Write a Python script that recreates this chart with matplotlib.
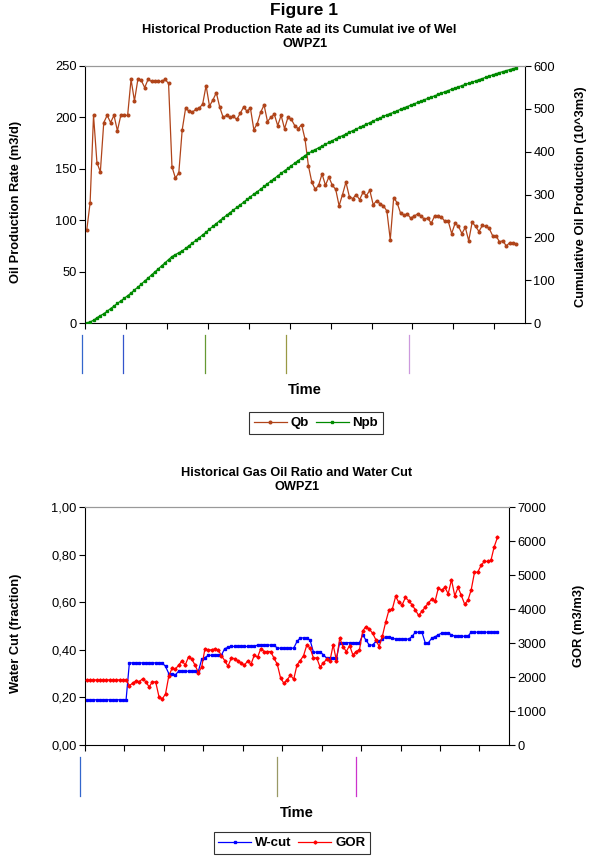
import matplotlib
matplotlib.use("Agg")
import matplotlib.pyplot as plt
from matplotlib.ticker import FixedLocator

plt.rcParams['font.family'] = ['Liberation Sans', 'DejaVu Sans']

# ---------------- data ----------------
qb = [90, 117, 202, 156, 147, 195, 202, 195, 202, 187,
      202, 202, 202, 237, 216, 237, 236, 229, 237, 235,
      235, 235, 235, 237, 233, 152, 141, 146, 188, 209,
      206, 205, 208, 209, 213, 231, 211, 217, 224, 210,
      200, 202, 200, 201, 198, 204, 210, 206, 209, 188,
      194, 205, 212, 196, 200, 203, 192, 202, 189, 200,
      198, 192, 189, 193, 179, 153, 137, 130, 134, 145,
      134, 142, 134, 130, 114, 125, 137, 123, 121, 125,
      120, 127, 124, 129, 115, 119, 116, 114, 109, 81,
      122, 117, 107, 105, 106, 102, 104, 106, 104, 101,
      102, 97, 104, 104, 103, 99, 99, 87, 97, 94,
      87, 93, 80, 98, 94, 89, 95, 94, 92, 85,
      85, 79, 80, 75, 78, 78, 77]

npb = [0, 2.7, 6.3, 12.4, 17.2, 21.6, 27.6, 33.7, 39.6, 45.8,
       51.5, 57.6, 63.7, 69.9, 77.1, 83.7, 90.9, 98.0, 105.0, 112.2,
       119.4, 126.5, 133.6, 140.8, 148.0, 155.1, 159.7, 164.0, 168.4, 174.1,
       180.5, 186.7, 193.0, 199.3, 205.7, 212.1, 219.2, 225.6, 232.2, 239.0,
       245.4, 251.4, 257.6, 263.7, 269.8, 275.8, 282.0, 288.4, 294.6, 301.0,
       306.7, 312.6, 318.8, 325.3, 331.2, 337.3, 343.5, 349.3, 355.5, 361.2,
       367.3, 373.3, 379.1, 384.9, 390.8, 396.2, 400.9, 405.0, 409.0, 413.0,
       417.5, 421.5, 425.8, 429.9, 433.9, 437.3, 441.1, 445.3, 449.0, 452.7,
       456.5, 460.2, 464.0, 467.8, 471.7, 475.2, 478.8, 482.4, 485.8, 489.1,
       491.6, 495.3, 498.9, 502.1, 505.3, 508.5, 511.6, 514.8, 518.0, 521.2,
       524.2, 527.3, 530.3, 533.5, 536.6, 539.8, 542.8, 545.8, 548.4, 551.4,
       554.2, 556.9, 559.7, 562.1, 565.1, 568.0, 570.7, 573.6, 576.4, 579.2,
       581.8, 584.4, 586.8, 589.2, 591.5, 593.9, 596.2]

wcut = ([0.19] * 13 + [0.345] * 11 +
        [0.33, 0.30, 0.30, 0.295] + [0.31] * 7 +
        [0.36, 0.367] + [0.377] * 5 + [0.405, 0.41] + [0.414] * 8 +
        [0.42] * 6 + [0.407] * 6 + [0.435] + [0.45] * 3 + [0.44] +
        [0.39] * 3 + [0.38] + [0.365] * 4 + [0.43] * 7 +
        [0.463, 0.44, 0.42, 0.42, 0.435, 0.437, 0.445, 0.453, 0.453, 0.449] +
        [0.445] * 5 + [0.456] + [0.474] * 3 + [0.43, 0.43, 0.449, 0.455, 0.463] +
        [0.47] * 3 + [0.463] + [0.457] * 5 + [0.474] * 9)

gor = [1915] * 13 + [
    1748, 1816, 1885, 1865, 1944, 1865, 1708, 1856, 1856, 1424,
    1355, 1502, 2032, 2258, 2238, 2346, 2474, 2356, 2592, 2523,
    2346, 2130, 2288, 2837, 2798, 2798, 2828, 2798, 2631, 2484,
    2317, 2553, 2543, 2474, 2415, 2346, 2474, 2376, 2641, 2582,
    2837, 2749, 2749, 2749, 2553, 2376, 1973, 1816, 1915, 2052,
    1934, 2356, 2484, 2631, 2945, 2847, 2562, 2562, 2297, 2405,
    2523, 2464, 2945, 2484, 3142, 2896, 2749, 2926, 2651, 2749,
    2798, 3358, 3485, 3407, 3289, 3093, 2896, 3211, 3623, 3976,
    3996, 4369, 4192, 4124, 4340, 4241, 4124, 3976, 3809, 3927,
    4055, 4182, 4290, 4222, 4614, 4546, 4634, 4448, 4860, 4389,
    4634, 4399, 4143, 4251, 4565, 5076, 5086, 5282, 5400, 5400,
    5429, 5832, 6107]

n_categories = 129
tick_every = 12

qb_ticks = [0, 50, 100, 150, 200, 250]
npb_ticks = [0, 100, 200, 300, 400, 500, 600]
wc_ticks = [0.0, 0.2, 0.4, 0.6, 0.8, 1.0]
wc_ticklabels = ["0,00", "0,20", "0,40", "0,60", "0,80", "1,00"]
gor_ticks = [0, 1000, 2000, 3000, 4000, 5000, 6000, 7000]

events_top = [-1.3, 10.6, 34.7, 58.4, 94.5]
events_top_colors = ["#3366CC", "#3355CC", "#669933", "#999944", "#CC99DD"]
events_bot = [-2.0, 57.9, 82.0]
events_bot_colors = ["#3366CC", "#999966", "#CC33CC"]

# ---------------- figure ----------------
W, H = 589, 857
fig = plt.figure(figsize=(W / 100, H / 100), dpi=100)

def frac(x0, y0, x1, y1):
    return [x0 / W, 1 - y1 / H, (x1 - x0) / W, (y1 - y0) / H]

def style_axes(ax, ax2):
    for a in (ax, ax2):
        a.spines['top'].set_color('#999999')
        a.spines['top'].set_linewidth(0.8)
        for s in ('left', 'right', 'bottom'):
            a.spines[s].set_color('black')
            a.spines[s].set_linewidth(0.8)
        a.tick_params(direction='out', length=4, width=0.8, labelsize=9.3,
                      colors='black', pad=2)
    ax.spines['right'].set_visible(False)
    ax2.spines['left'].set_visible(False)
    ax2.spines['bottom'].set_visible(False)
    ax.set_xlim(-0.5, n_categories - 0.5)
    ax.xaxis.set_major_locator(FixedLocator(
        [-0.5 + tick_every * k for k in range(n_categories // tick_every + 1)]))
    ax.set_xticklabels([])

LBL = dict(fontsize=9.3, fontweight='bold', va='center')
TTL = dict(ha='center', va='center', fontsize=9.2, fontweight='bold')

# ---- top chart ----
ax1 = fig.add_axes(frac(85, 66, 525, 323))
ax1b = ax1.twinx()
lq, = ax1.plot(list(range(len(qb))), qb, color='#B0441A', lw=0.9, marker='o', ms=1.9,
               mec='#B0441A', label='Qb')
ln, = ax1b.plot(list(range(len(npb))), npb, color='#008A00', lw=0.9, marker='s', ms=1.9,
                mec='#008A00', label='Npb')
ax1.set_ylim(0, 250)
ax1b.set_ylim(0, 600)
ax1.set_yticks(qb_ticks)
ax1b.set_yticks(npb_ticks)
style_axes(ax1, ax1b)
ax1.set_ylabel('Oil Production Rate (m3/d)', **LBL)
ax1.yaxis.set_label_coords((16 - 85) / 440, 0.47)
ax1b.set_ylabel('Cumulative Oil Production (10^3m3)', rotation=90, **LBL)
ax1b.yaxis.set_label_coords((581 - 85) / 440, 0.49)
fig.text(304 / W, 1 - 10 / H, 'Figure 1', ha='center', va='center', fontsize=12.5, fontweight='bold')
fig.text(299 / W, 1 - 30 / H, 'Historical Production Rate ad its Cumulat ive of Wel', **TTL)
fig.text(305 / W, 1 - 44 / H, 'OWPZ1', **TTL)

ev1 = fig.add_axes(frac(85, 335, 525, 373))
ev1.set_xlim(-0.5, n_categories - 0.5)
ev1.set_ylim(0, 1)
ev1.axis('off')
for xv, c in zip(events_top, events_top_colors):
    ev1.plot([xv, xv], [0, 1], color=c, lw=0.9, clip_on=False)

fig.text(305 / W, 1 - 390 / H, 'Time', ha='center', va='center', fontsize=10.5, fontweight='bold')
leg1 = fig.legend(handles=[lq, ln], loc='center', bbox_to_anchor=(316 / W, 1 - 423 / H),
                  ncol=2, frameon=True, fancybox=False, edgecolor='black',
                  prop={'weight': 'bold', 'size': 9.5}, handlelength=2.5,
                  columnspacing=0.5, handletextpad=0.3, borderpad=0.35, borderaxespad=0)
leg1.get_frame().set_linewidth(0.8)

# ---- bottom chart ----
ax2 = fig.add_axes(frac(85, 507, 509, 745))
ax2b = ax2.twinx()
lw_, = ax2.plot(list(range(len(wcut))), wcut, color='#0000FF', lw=0.9, marker='s', ms=1.8,
                mec='#0000FF', label='W-cut')
lg_, = ax2b.plot(list(range(len(gor))), gor, color='#FF0000', lw=0.9, marker='D', ms=1.6,
                 mec='#FF0000', label='GOR')
ax2.set_ylim(0, 1)
ax2b.set_ylim(0, 7000)
ax2.set_yticks(wc_ticks)
ax2.set_yticklabels(wc_ticklabels)
ax2b.set_yticks(gor_ticks)
style_axes(ax2, ax2b)
ax2.set_ylabel('Water Cut (fraction)', **LBL)
ax2.yaxis.set_label_coords((16 - 85) / 424, 0.47)
ax2b.set_ylabel('GOR (m3/m3)', rotation=90, **LBL)
ax2b.yaxis.set_label_coords((579 - 85) / 424, 0.5)
fig.text(297 / W, 1 - 473 / H, 'Historical Gas Oil Ratio and Water Cut', **TTL)
fig.text(297 / W, 1 - 487 / H, 'OWPZ1', **TTL)

ev2 = fig.add_axes(frac(85, 757, 509, 796))
ev2.set_xlim(-0.5, n_categories - 0.5)
ev2.set_ylim(0, 1)
ev2.axis('off')
for xv, c in zip(events_bot, events_bot_colors):
    ev2.plot([xv, xv], [0, 1], color=c, lw=0.9, clip_on=False)

fig.text(297 / W, 1 - 813 / H, 'Time', ha='center', va='center', fontsize=10.5, fontweight='bold')
leg2 = fig.legend(handles=[lw_, lg_], loc='center', bbox_to_anchor=(292 / W, 1 - 843 / H),
                  ncol=2, frameon=True, fancybox=False, edgecolor='black',
                  prop={'weight': 'bold', 'size': 9.5}, handlelength=2.5,
                  columnspacing=0.5, handletextpad=0.3, borderpad=0.35, borderaxespad=0)
leg2.get_frame().set_linewidth(0.8)

fig.savefig('out.png', dpi=100)
